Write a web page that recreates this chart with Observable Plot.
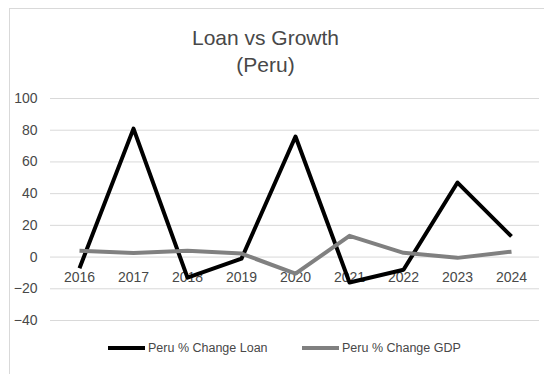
<!DOCTYPE html>
<html><head><meta charset="utf-8">
<script src="https://cdn.jsdelivr.net/npm/d3@7"></script>
<script src="https://cdn.jsdelivr.net/npm/@observablehq/plot@0.6"></script>
<style>
body{margin:0;width:544px;height:374px;overflow:hidden;background:#fff;font-family:"Liberation Sans",Arial,sans-serif;}
#wrap{position:relative;width:544px;height:374px;overflow:hidden;}
#border{position:absolute;left:9px;top:8px;width:600px;height:400px;border:1px solid #d9d9d9;}
#chart{position:absolute;left:0;top:0;}
#title{position:absolute;left:0;top:24px;width:531px;text-align:center;color:#484848;font-size:21px;line-height:27px;}
.leg{position:absolute;top:340px;height:16px;display:flex;align-items:center;font-size:12.5px;color:#484848;white-space:nowrap;}
.leg svg{margin-right:3px;}
</style></head>
<body>
<div id="wrap">
<div id="border"></div>
<div id="chart"></div>
<div id="title">Loan vs Growth<br>(Peru)</div>
<div id="legend"></div>
</div>
<script>
const years = ["2016","2017","2018","2019","2020","2021","2022","2023","2024"];
const loanChange = [-7, 81, -13, -1, 76, -16, -8, 47, 13];
const gdpChange = [4.0, 2.5, 4.0, 2.2, -10.5, 13.4, 2.7, -0.5, 3.4];
const yTicks = [-40, -20, 0, 20, 40, 60, 80, 100];
const seriesNames = ["Peru % Change Loan", "Peru % Change GDP"];
const seriesColors = ["#000000", "#808080"];

const data = years.map((y, i) => ({year: y, loan: loanChange[i], gdp: gdpChange[i]}));

const chart = Plot.plot({
  width: 544,
  height: 374,
  marginLeft: 50,
  marginRight: 5,
  marginTop: 98,
  marginBottom: 54,
  style: {fontFamily: '"Liberation Sans", Arial, sans-serif', fontSize: "14px", color: "#484848", background: "transparent"},
  x: {type: "point", domain: years, padding: 0.5, axis: null},
  y: {domain: [-40, 100], ticks: yTicks, axis: null},
  marks: [
    Plot.gridY(yTicks, {stroke: "#d9d9d9", strokeOpacity: 1, strokeWidth: 1}),
    Plot.axisY(yTicks, {tickSize: 0, tickPadding: 13, fontSize: 14, fill: "#484848", label: null}),
    Plot.text(years, {x: d => d, y: () => 0, dy: 20, fontSize: 14, fill: "#484848"}),
    Plot.line(data, {x: "year", y: "loan", stroke: seriesColors[0], strokeWidth: 4, strokeLinejoin: "round", strokeLinecap: "butt"}),
    Plot.line(data, {x: "year", y: "gdp", stroke: seriesColors[1], strokeWidth: 4, strokeLinejoin: "round", strokeLinecap: "butt"})
  ]
});
document.getElementById("chart").appendChild(chart);

const legend = document.getElementById("legend");
const legX = [108, 302];
seriesNames.forEach((name, i) => {
  const div = document.createElement("div");
  div.className = "leg";
  div.style.left = legX[i] + "px";
  div.innerHTML = `<svg width="37" height="6"><line x1="0" y1="3" x2="37" y2="3" stroke="${seriesColors[i]}" stroke-width="4" stroke-linecap="round"/></svg>${name}`;
  legend.appendChild(div);
});
</script>
</body></html>
